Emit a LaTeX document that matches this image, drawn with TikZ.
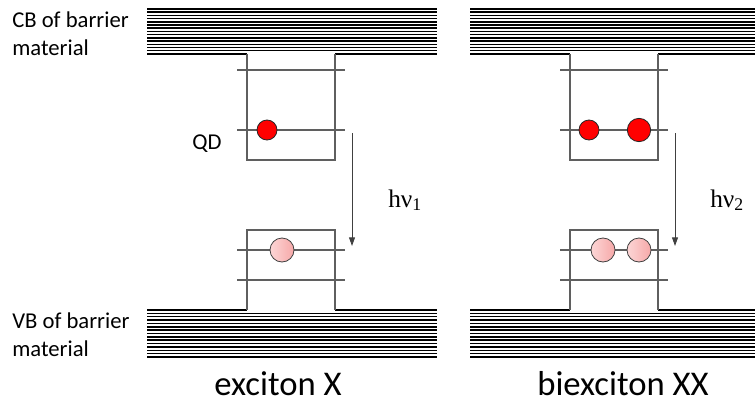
\documentclass[tikz,border=0pt]{standalone}
\usepackage{fontspec}
\setmainfont{Carlito}
\newfontfamily\hnufont{Liberation Serif}
\usetikzlibrary{arrows.meta}
\definecolor{qdgray}{RGB}{95,95,95}
\definecolor{elred}{RGB}{255,0,0}
\definecolor{hlpink}{RGB}{246,168,168}
\definecolor{hllight}{RGB}{252,214,214}

\tikzset{
  band/.style={line width=1.15pt,black},
  wall/.style={line width=1pt,qdgray},
  level/.style={line width=0.85pt,qdgray},
  emit/.style={line width=0.7pt,black!75,-{Triangle[length=6.5pt,width=4.5pt]}},
  electron/.style={circle,draw=black!85,line width=0.6pt,fill=elred,inner sep=0pt,minimum size=15pt},
  hole/.style={circle,draw=black!75,line width=0.6pt,left color=hllight,right color=hlpink,inner sep=0pt,minimum size=18pt},
  lbl/.style={inner sep=0pt,font=\fontsize{17}{21}\selectfont},
  title/.style={inner sep=0pt,font=\fontsize{26}{30}\selectfont},
  hnu/.style={inner sep=0pt,font=\hnufont\fontsize{19}{22}\selectfont}
}

\begin{document}
\begin{tikzpicture}[x=0.75pt,y=-0.75pt]
  \useasboundingbox (0,0) rectangle (755,403);
  % the two panels: X and XX
  \foreach \p/\dx in {1/0,2/323} {
    \begin{scope}[xshift=\dx*0.75pt]
      % barrier bands
      \foreach \k in {0,...,13}
        \draw[band] (147,{9+3.21*\k}) -- (437,{9+3.21*\k});
      \foreach \k in {1,...,14}
        \draw[band] (147,{310+3.36*\k}) -- (437,{310+3.36*\k});
      \coordinate (cbL\p) at (147,54);
      \coordinate (cbR\p) at (437,54);
      \coordinate (vbL\p) at (147,310);
      \coordinate (vbR\p) at (437,310);
      % QD walls
      \coordinate (wTL\p) at (247,54);
      \coordinate (wTR\p) at (335,54);
      \coordinate (wBL\p) at (247,310);
      \coordinate (wBR\p) at (335,310);
      \draw[band] (cbL\p) -- (wTL\p) (wTR\p) -- (cbR\p);
      \draw[band] (vbL\p) -- (wBL\p) (wBR\p) -- (vbR\p);
      \draw[wall] (wTL\p) |- (335,160) -- (wTR\p);
      \draw[wall] (wBL\p) |- (335,230) -- (wBR\p);
      % confined levels
      \foreach \y in {70,130,250,280}
        \draw[level] (237,\y) -- (345,\y);
      % emission
      \coordinate (eT\p) at (352,133);
      \coordinate (eB\p) at (352,246);
      \draw[emit] (eT\p) -- (eB\p);
    \end{scope}
  }
  % carriers
  \node[electron] (e1) at (267,130) {};
  \node[hole] (h1) at (282,250) {};
  \node[electron] (e2a) at (589,130) {};
  \node[electron,minimum size=17.5pt] (e2b) at (639,130) {};
  \node[hole] (h2a) at (603,250) {};
  \node[hole] (h2b) at (639,250) {};
  % labels
  \node[lbl,anchor=north west,align=left] (cb) at (12,11) {CB of barrier\\material};
  \node[lbl,anchor=north west,align=left] (vb) at (12,312) {VB of barrier\\material};
  \node[lbl,anchor=base west] (qd) at (192,149) {QD};
  \node[hnu,anchor=base west] (hnu1) at (388,207) {hν\textsubscript{1}};
  \node[hnu,anchor=base west] (hnu2) at (710,207) {hν\textsubscript{2}};
  \node[title,anchor=base] (x) at (278,395) {exciton X};
  \node[title,anchor=base] (xx) at (623,395) {biexciton XX};
\end{tikzpicture}
\end{document}
